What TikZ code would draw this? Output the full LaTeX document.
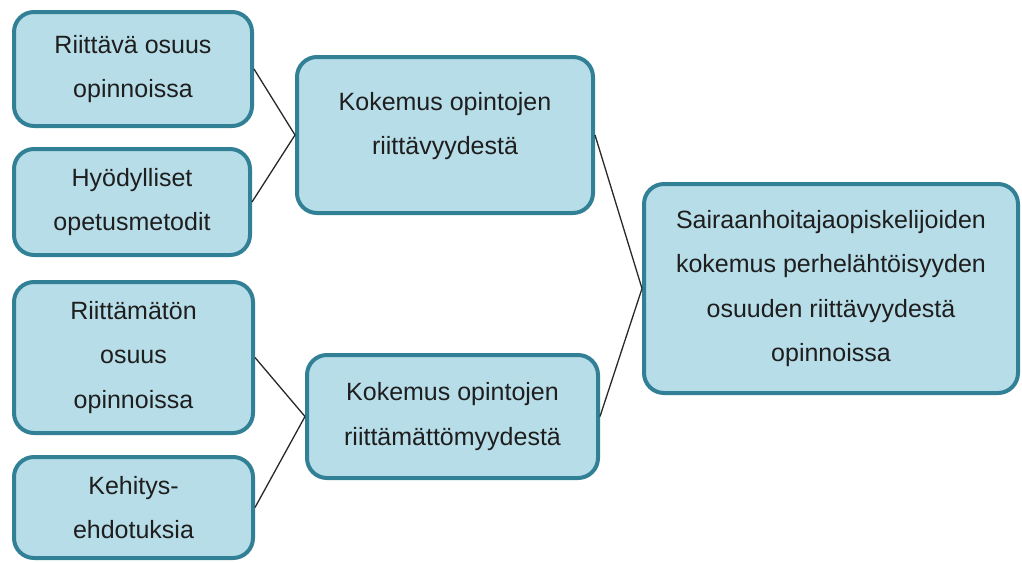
\documentclass[tikz,border=0pt]{standalone}
\usepackage{fontspec}
\setmainfont{Liberation Sans}
\definecolor{boxfill}{RGB}{183,221,232}
\definecolor{boxline}{RGB}{49,128,150}
\definecolor{txt}{RGB}{30,30,30}
\definecolor{conn}{RGB}{40,40,40}
\begin{document}
\begin{tikzpicture}[x=1pt,y=-1pt,
  box/.style={draw=boxline, fill=boxfill, line width=4pt, rounded corners=20pt,
    align=center, text=txt, inner sep=0pt,
    font=\fontsize{25}{44.5}\selectfont},
  connline/.style={draw=conn, line width=1.3pt}]
\useasboundingbox (0,0) rectangle (1022,562);
\node[box, minimum width=238, minimum height=114] (b1) at (133,69) {Riittävä osuus\\opinnoissa};
\node[box, minimum width=236, minimum height=106] (b2) at (132,202) {Hyödylliset\\opetusmetodit};
\node[box, minimum width=239, minimum height=151] (b3) at (133.5,357.5) {Riittämätön\\osuus\\opinnoissa};
\node[box, minimum width=239, minimum height=101] (b4) at (133.5,507.5) {Kehitys-\\ehdotuksia};
\node[box, minimum width=296, minimum height=156,
  label={[align=center, text=txt, font=\fontsize{25}{44.5}\selectfont, yshift=9pt]center:Kokemus opintojen\\riittävyydestä}] (b5) at (445,135) {};
\node[box, minimum width=291, minimum height=123] (b6) at (452.5,416.5) {Kokemus opintojen\\riittämättömyydestä};
\node[box, minimum width=374, minimum height=209] (b7) at (831,288.5) {Sairaanhoitajaopiskelijoiden\\kokemus perhelähtöisyyden\\osuuden riittävyydestä\\opinnoissa};
\draw[connline] (b1.east) -- (b5.west);
\draw[connline] (b2.east) -- (b5.west);
\draw[connline] (b3.east) -- (b6.west);
\draw[connline] (b4.east) -- (b6.west);
\draw[connline] (b5.east) -- (b7.west);
\draw[connline] (b6.east) -- (b7.west);
\end{tikzpicture}
\end{document}
